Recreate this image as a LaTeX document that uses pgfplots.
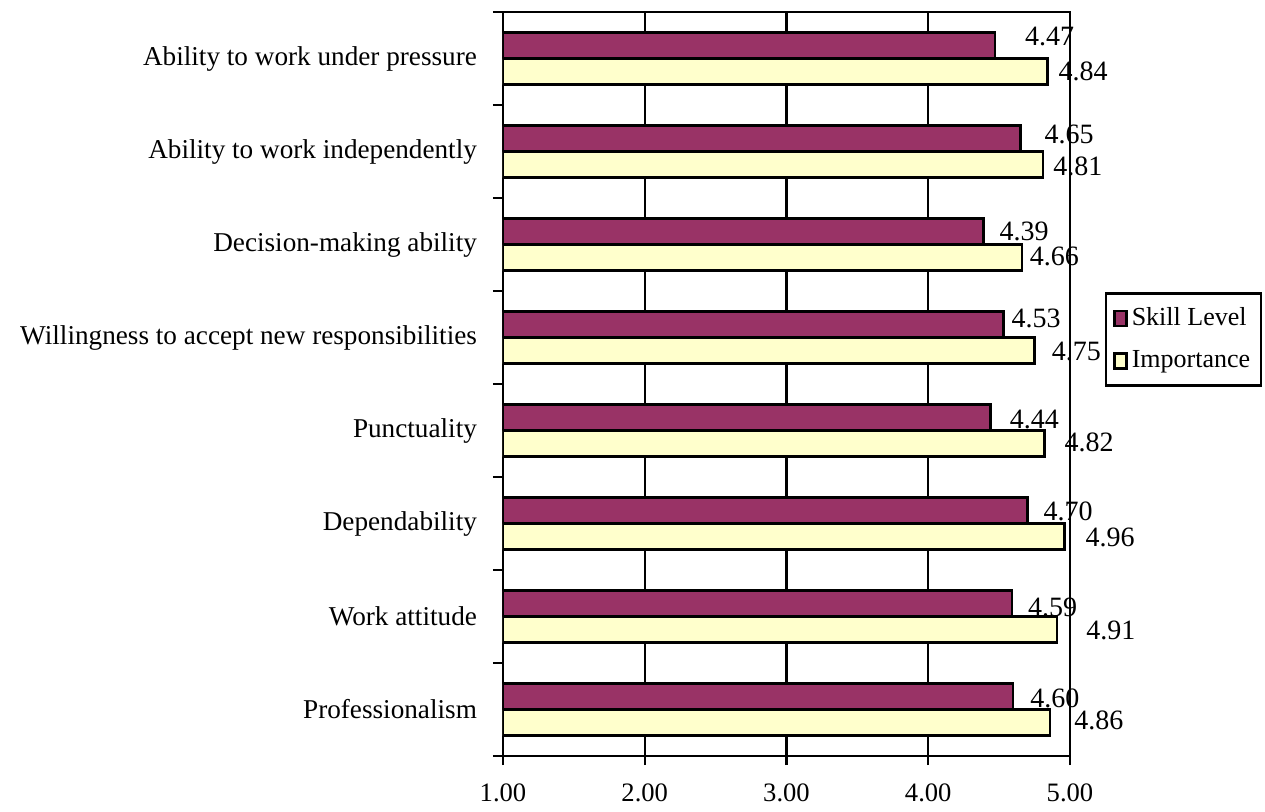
\documentclass[border=0pt]{standalone}
\usepackage{pgfplots}
\pgfplotsset{compat=1.18}
\usepackage{fontspec}
\setmainfont{Liberation Serif}
\definecolor{skill}{HTML}{993366}
\definecolor{imp}{HTML}{FFFFCC}
\begin{document}
\fontsize{13}{15}\selectfont
\begin{tikzpicture}
\useasboundingbox (-251.5pt,-27.5pt) rectangle (381pt,378pt);
\begin{axis}[
  at={(0,0)}, anchor=south west,
  scale only axis, width=283.5pt, height=372pt,
  xbar, bar width=13pt,
  xmin=1, xmax=5, ymin=0.5, ymax=8.5,
  xtick={1,2,3,4,5},
  /pgf/number format/assume math mode=true,
  xticklabel={\pgfmathprintnumber[fixed,fixed zerofill,precision=2]{\tick}},
  ytick={1,...,8},
  yticklabels={Professionalism, Work attitude, Dependability, Punctuality, Willingness to accept new responsibilities, Decision-making ability, Ability to work independently, Ability to work under pressure},
  minor ytick={0.5,1.5,...,8.5},
  xtick pos=bottom, ytick pos=left,
  tick align=outside,
  major tick length=4.5pt, minor tick length=5pt,
  major y tick style={draw=none},
  minor y tick style={black, line width=1.2pt},
  major x tick style={black, line width=1.2pt},
  xmajorgrids, major grid style={black, line width=1.2pt},
  axis line style={line width=1.2pt},
  xticklabel style={yshift=-5pt, font=\fontsize{13.3}{15}\selectfont},
  yticklabel style={xshift=-4pt, font=\fontsize{13.6}{16}\selectfont},
  point meta=x,
  nodes near coords={\pgfmathprintnumber[fixed,fixed zerofill,precision=2]{\pgfplotspointmeta}},
  visualization depends on={\thisrow{dx} \as \dx},
  visualization depends on={\thisrow{dy} \as \dy},
  every node near coord/.append style={anchor=west, inner sep=0pt, text=black, font=\fontsize{14}{16}\selectfont, xshift={\dx*0.5pt}, yshift={-\dy*0.5pt}},
  legend style={at={(1.0617,0.623)}, anchor=north west, draw=black, line width=1.2pt, inner xsep=3.5pt, inner ysep=5pt, row sep=6.5pt, font=\fontsize{13}{15}\selectfont},
  legend cell align=left,
  legend image code/.code={\draw[#1, line width=1.3pt] (0pt,-3.75pt) rectangle (6pt,3.75pt);},
]
\addplot[fill=skill, draw=black, line width=1.2pt, bar shift=6.5pt] table[x=v, y=y] {
y v dx dy
1 4.60 16 2
2 4.59 15 4
3 4.70 15 1
4 4.44 18 2
5 4.53 7 -6
6 4.39 15 0
7 4.65 23 -4
8 4.47 29 -9.5
};
\addplot[fill=imp, draw=black, line width=1.2pt, bar shift=-6.5pt] table[x=v, y=y] {
y v dx dy
1 4.86 23 -2
2 4.91 28 1
3 4.96 20 1
4 4.82 19 -1
5 4.75 16 1
6 4.66 7 -1
7 4.81 9 2
8 4.84 10 0
};
\legend{Skill Level, Importance}
\end{axis}
\end{tikzpicture}
\end{document}
